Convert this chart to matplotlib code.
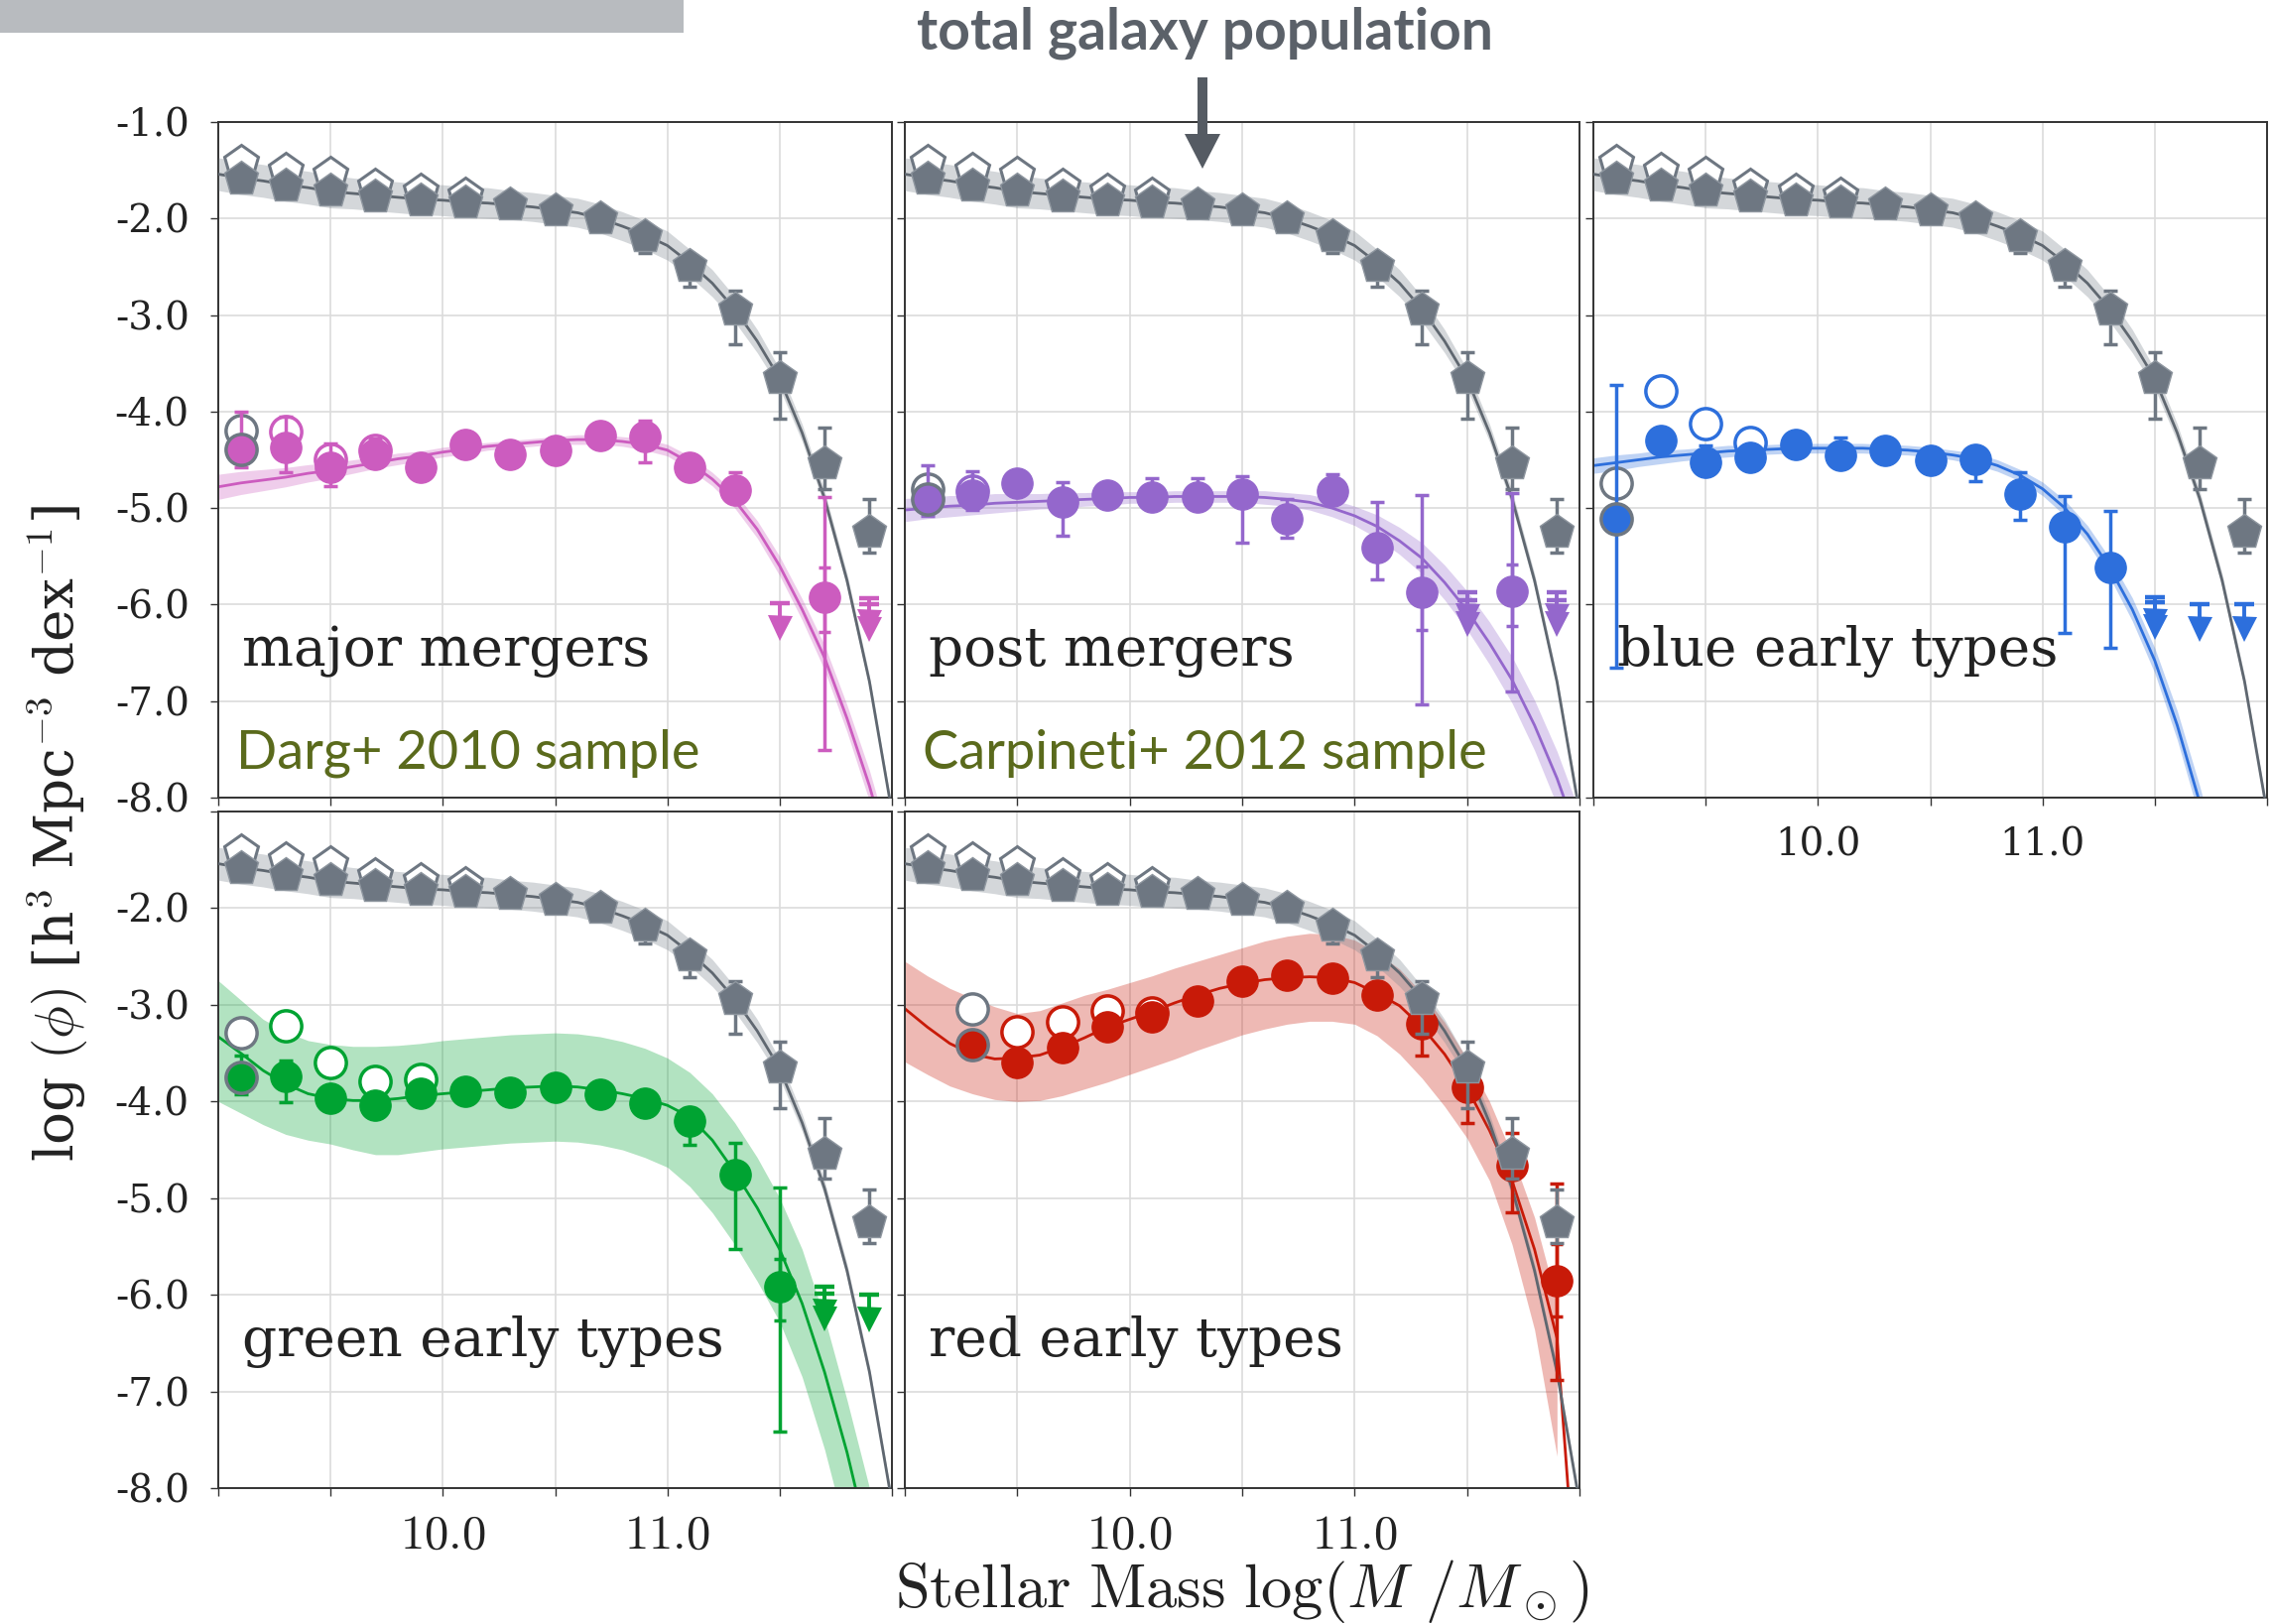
import numpy as np
import matplotlib.pyplot as plt
from matplotlib.patches import Rectangle, Polygon

plt.rcParams['mathtext.fontset'] = 'cm'
plt.rcParams['font.family'] = ['DejaVu Serif']

# ---------------- data ----------------
mass = [9.1, 9.3, 9.5, 9.7, 9.9, 10.1, 10.3, 10.5, 10.7, 10.9, 11.1, 11.3, 11.5, 11.7, 11.9]
fit_x = [9.0, 9.1, 9.2, 9.3, 9.4, 9.5, 9.6, 9.7, 9.8, 9.9, 10.0, 10.1, 10.2, 10.3, 10.4, 10.5,
         10.6, 10.7, 10.8, 10.9, 11.0, 11.1, 11.2, 11.3, 11.4, 11.5, 11.6, 11.7, 11.8, 11.9, 12.0]

# total galaxy population (same in every panel)
tot_y = [-1.59, -1.66, -1.71, -1.77, -1.81, -1.83, -1.85, -1.91, -2.00, -2.18, -2.49, -2.94, -3.65, -4.54, -5.25]
tot_hi = [0.03, 0.03, 0.03, 0.03, 0.03, 0.03, 0.03, 0.03, 0.03, 0.05, 0.08, 0.19, 0.27, 0.37, 0.34]
tot_lo = [0.03, 0.03, 0.03, 0.03, 0.03, 0.03, 0.03, 0.03, 0.03, 0.18, 0.22, 0.36, 0.42, 0.26, 0.21]
tot_open_x = [9.1, 9.3, 9.5, 9.7, 9.9, 10.1]
tot_open_y = [-1.42, -1.50, -1.54, -1.67, -1.72, -1.76]
tot_fit = [-1.54, -1.58, -1.61, -1.65, -1.68, -1.72, -1.74, -1.76, -1.78, -1.80, -1.81, -1.83, -1.84,
           -1.86, -1.88, -1.91, -1.94, -2.00, -2.08, -2.17, -2.28, -2.46, -2.67, -2.94, -3.27, -3.66,
           -4.22, -4.90, -5.75, -6.80, -8.15]
tot_band = [0.17, 0.17, 0.17, 0.17, 0.17, 0.17, 0.16, 0.16, 0.16, 0.16, 0.16, 0.16, 0.16, 0.15, 0.15,
            0.15, 0.15, 0.15, 0.15, 0.15, 0.15, 0.14, 0.14, 0.13, 0.12, 0.10, 0.09, 0.08, 0.07, 0.06, 0.05]

# major mergers
mm_x = [9.1, 9.3, 9.5, 9.7, 9.9, 10.1, 10.3, 10.5, 10.7, 10.9, 11.1, 11.3, 11.7]
mm_y = [-4.39, -4.37, -4.58, -4.44, -4.58, -4.34, -4.44, -4.40, -4.25, -4.26, -4.58, -4.81, -5.92]
mm_hi = [0.39, 0.32, 0.25, 0.16, 0.05, 0.05, 0.05, 0.05, 0.05, 0.17, 0.05, 0.18, 1.03]
mm_lo = [0.19, 0.26, 0.19, 0.10, 0.05, 0.05, 0.05, 0.05, 0.05, 0.27, 0.05, 0.12, 1.59]
mm_inner = [(11.7, -5.92, 0.36, 0.30)]
mm_open_x = [9.1, 9.3, 9.5, 9.7]
mm_open_y = [-4.20, -4.21, -4.49, -4.40]
mm_ul_x = [11.5, 11.9, 11.9]
mm_ul_y = [-5.99, -5.93, -6.00]
mm_fit = [-4.78, -4.74, -4.71, -4.68, -4.64, -4.61, -4.57, -4.53, -4.49, -4.46, -4.42, -4.39, -4.36,
          -4.34, -4.32, -4.30, -4.29, -4.29, -4.31, -4.34, -4.40, -4.53, -4.70, -4.92, -5.22, -5.60,
          -6.05, -6.55, -7.18, -7.88, -8.70]
mm_band = [0.13, 0.12, 0.11, 0.10, 0.09, 0.08, 0.07, 0.06, 0.06, 0.05, 0.05, 0.05, 0.04, 0.04, 0.04,
           0.04, 0.05, 0.05, 0.05, 0.06, 0.06, 0.07, 0.07, 0.08, 0.09, 0.10, 0.11, 0.13, 0.14, 0.16, 0.17]

# post mergers
pm_x = [9.1, 9.3, 9.5, 9.7, 9.9, 10.1, 10.3, 10.5, 10.7, 10.9, 11.1, 11.3, 11.7]
pm_y = [-4.91, -4.87, -4.74, -4.94, -4.86, -4.89, -4.89, -4.85, -5.11, -4.82, -5.41, -5.87, -5.86]
pm_hi = [0.35, 0.25, 0.05, 0.21, 0.05, 0.20, 0.20, 0.18, 0.20, 0.17, 0.47, 1.00, 1.02]
pm_lo = [0.17, 0.15, 0.05, 0.35, 0.05, 0.05, 0.05, 0.51, 0.20, 0.05, 0.33, 1.16, 1.04]
pm_inner = [(11.3, -5.87, 0.39, 0.27), (11.7, -5.86, 0.36, 0.28)]
pm_open_x = [9.1, 9.3]
pm_open_y = [-4.80, -4.82]
pm_ul_x = [11.5, 11.5, 11.9, 11.9]
pm_ul_y = [-5.87, -5.95, -5.87, -5.95]
pm_fit = [-5.02, -5.00, -4.98, -4.97, -4.95, -4.94, -4.93, -4.92, -4.91, -4.90, -4.89, -4.89, -4.88,
          -4.88, -4.88, -4.88, -4.89, -4.91, -4.94, -5.00, -5.08, -5.19, -5.34, -5.52, -5.77, -6.06,
          -6.40, -6.78, -7.25, -7.80, -8.45]
pm_band = [0.12, 0.11, 0.11, 0.10, 0.10, 0.09, 0.08, 0.08, 0.07, 0.07, 0.06, 0.06, 0.06, 0.06, 0.06,
           0.06, 0.07, 0.07, 0.08, 0.09, 0.10, 0.12, 0.14, 0.16, 0.18, 0.20, 0.22, 0.24, 0.26, 0.28, 0.30]

# blue early types
be_x = [9.1, 9.3, 9.5, 9.7, 9.9, 10.1, 10.3, 10.5, 10.7, 10.9, 11.1, 11.3]
be_y = [-5.11, -4.30, -4.53, -4.47, -4.34, -4.45, -4.40, -4.51, -4.50, -4.85, -5.19, -5.62]
be_hi = [1.39, 0.05, 0.18, 0.05, 0.05, 0.18, 0.05, 0.05, 0.05, 0.22, 0.31, 0.59]
be_lo = [1.54, 0.05, 0.05, 0.05, 0.05, 0.05, 0.05, 0.05, 0.22, 0.27, 1.10, 0.83]
be_inner = []
be_open_x = [9.1, 9.3, 9.5, 9.7]
be_open_y = [-4.74, -3.79, -4.12, -4.32]
be_ul_x = [11.5, 11.5, 11.7, 11.9]
be_ul_y = [-5.92, -5.98, -6.00, -6.00]
be_fit = [-4.56, -4.53, -4.50, -4.47, -4.45, -4.43, -4.41, -4.40, -4.39, -4.38, -4.38, -4.38, -4.38,
          -4.39, -4.40, -4.42, -4.45, -4.49, -4.56, -4.66, -4.80, -5.00, -5.27, -5.62, -6.05, -6.58,
          -7.25, -8.05, -8.95, -9.95, -11.0]
be_band = [0.08, 0.08, 0.07, 0.07, 0.06, 0.06, 0.06, 0.05, 0.05, 0.05, 0.05, 0.05, 0.05, 0.05, 0.05,
           0.05, 0.05, 0.06, 0.06, 0.06, 0.07, 0.08, 0.09, 0.10, 0.12, 0.13, 0.15, 0.17, 0.19, 0.21, 0.23]

# green early types
ge_x = [9.1, 9.3, 9.5, 9.7, 9.9, 10.1, 10.3, 10.5, 10.7, 10.9, 11.1, 11.3, 11.5]
ge_y = [-3.75, -3.74, -3.97, -4.04, -3.92, -3.89, -3.90, -3.85, -3.93, -4.02, -4.20, -4.76, -5.92]
ge_hi = [0.23, 0.16, 0.05, 0.05, 0.05, 0.05, 0.05, 0.05, 0.05, 0.05, 0.13, 0.33, 1.03]
ge_lo = [0.18, 0.27, 0.05, 0.05, 0.05, 0.05, 0.05, 0.05, 0.05, 0.05, 0.25, 0.77, 1.49]
ge_inner = [(11.5, -5.92, 0.35, 0.29)]
ge_open_x = [9.1, 9.3, 9.5, 9.7, 9.9]
ge_open_y = [-3.29, -3.22, -3.60, -3.79, -3.77]
ge_ul_x = [11.7, 11.7, 11.9]
ge_ul_y = [-5.92, -5.99, -6.00]
ge_fit = [-3.33, -3.50, -3.68, -3.82, -3.92, -3.97, -3.99, -3.99, -3.97, -3.94, -3.92, -3.90, -3.88,
          -3.86, -3.85, -3.84, -3.85, -3.88, -3.92, -3.97, -4.04, -4.16, -4.40, -4.73, -5.10, -5.53,
          -6.09, -6.80, -7.63, -8.60, -9.60]
ge_up = [-2.75, -2.95, -3.15, -3.28, -3.37, -3.41, -3.43, -3.43, -3.42, -3.40, -3.37, -3.35, -3.33,
         -3.31, -3.30, -3.29, -3.30, -3.33, -3.38, -3.45, -3.55, -3.70, -3.92, -4.22, -4.58, -5.00,
         -5.53, -6.24, -7.09, -8.00, -9.00]
ge_dn = [-4.00, -4.12, -4.24, -4.34, -4.40, -4.44, -4.50, -4.55, -4.55, -4.52, -4.49, -4.47, -4.45,
         -4.43, -4.42, -4.41, -4.42, -4.45, -4.50, -4.58, -4.68, -4.88, -5.15, -5.48, -5.86, -6.28,
         -6.85, -7.60, -8.50, -9.50, -10.5]

# red early types
re_x = [9.3, 9.5, 9.7, 9.9, 10.1, 10.3, 10.5, 10.7, 10.9, 11.1, 11.3, 11.5, 11.7, 11.9]
re_y = [-3.41, -3.60, -3.44, -3.23, -3.12, -2.96, -2.75, -2.69, -2.72, -2.90, -3.20, -3.85, -4.66, -5.85]
re_hi = [0.05, 0.05, 0.05, 0.05, 0.05, 0.05, 0.05, 0.05, 0.05, 0.05, 0.13, 0.29, 0.33, 1.00]
re_lo = [0.15, 0.05, 0.05, 0.05, 0.05, 0.05, 0.05, 0.05, 0.05, 0.05, 0.33, 0.37, 0.49, 1.03]
re_inner = [(11.9, -5.85, 0.37, 0.37)]
re_open_x = [9.3, 9.5, 9.7, 9.9, 10.1]
re_open_y = [-3.04, -3.28, -3.18, -3.06, -3.08]
re_ul_x = []
re_ul_y = []
re_fit = [-3.04, -3.23, -3.40, -3.51, -3.56, -3.55, -3.52, -3.44, -3.34, -3.23, -3.15, -3.07, -2.98,
          -2.90, -2.83, -2.78, -2.74, -2.72, -2.71, -2.72, -2.77, -2.88, -3.01, -3.23, -3.51, -3.86,
          -4.30, -4.82, -5.53, -6.45, -9.60]
re_up = [-2.55, -2.70, -2.83, -2.93, -3.02, -3.09, -3.06, -2.98, -2.90, -2.84, -2.77, -2.70, -2.62,
         -2.55, -2.48, -2.41, -2.34, -2.29, -2.26, -2.27, -2.33, -2.46, -2.63, -2.88, -3.18, -3.56,
         -4.00, -4.55, -5.20, -6.08]
re_dn = [-3.59, -3.72, -3.84, -3.92, -3.98, -4.00, -3.99, -3.94, -3.87, -3.80, -3.72, -3.64, -3.56,
         -3.47, -3.39, -3.31, -3.25, -3.20, -3.17, -3.17, -3.20, -3.32, -3.51, -3.76, -4.05, -4.38,
         -4.82, -5.48, -6.36, -7.67]

GRAY = '#6E7782'
W, H = 2290, 1637
MS_CIRC = 22.5
MS_PENT = 26

fig = plt.figure(figsize=(W / 100, H / 100), dpi=100)


def px_axes(x0, y0, x1, y1):
    return fig.add_axes([x0 / W, 1 - y1 / H, (x1 - x0) / W, (y1 - y0) / H])


def style_axes(ax, xlab=None, ylab=True, top_label=True):
    ax.set_xlim(9.0, 12.0)
    ax.set_ylim(-8.0, -1.0)
    ax.set_xticks([9.0, 9.5, 10.0, 10.5, 11.0, 11.5, 12.0])
    ax.set_yticks([-8, -7, -6, -5, -4, -3, -2, -1])
    ax.grid(True, color='#DCDCDC', lw=1.2, zorder=0)
    ax.set_axisbelow(True)
    for s in ax.spines.values():
        s.set_color('#333333')
        s.set_linewidth(1.4)
    ax.tick_params(direction='out', length=6, width=1.0, color='#333333', pad=15)
    if ylab:
        labs = ['%.1f' % v for v in ax.get_yticks()]
        if not top_label:
            labs[-1] = ''
        ax.set_yticklabels(labs, fontsize=28, family='DejaVu Serif', color='#222222')
    else:
        ax.set_yticklabels([])
    if xlab == 'cm':
        ax.set_xticklabels(['', '', r'$10.0$', '', r'$11.0$', '', ''], fontsize=35, color='#222222')
        ax.tick_params(axis='x', pad=11)
    elif xlab == 'serif':
        ax.set_xticklabels(['', '', '10.0', '', '11.0', '', ''], fontsize=28,
                           family='DejaVu Serif', color='#222222')
    else:
        ax.set_xticklabels([])


def draw_total(ax):
    lo = [f - w for f, w in zip(tot_fit, tot_band)]
    hi = [f + w for f, w in zip(tot_fit, tot_band)]
    ax.fill_between(fit_x, lo, hi, color='#7D8791', alpha=0.33, lw=0, zorder=3)
    ax.plot(fit_x, tot_fit, color='#5F6770', lw=2.0, zorder=3.5)
    ax.plot(tot_open_x, tot_open_y, 'p', ms=MS_PENT, mfc='white', mec=GRAY, mew=2.2, zorder=6)
    ax.errorbar(mass, tot_y, yerr=[tot_lo, tot_hi], fmt='none', ecolor=GRAY,
                elinewidth=2.5, capsize=5, capthick=2.5, zorder=6.5)
    ax.plot(mass, tot_y, 'p', ms=MS_PENT, mfc=GRAY, mec='#8E969F', mew=1.0, zorder=7)


def draw_fit(ax, col, fit, band=None, up=None, dn=None):
    if band is not None:
        dn = [f - w for f, w in zip(fit, band)]
        up = [f + w for f, w in zip(fit, band)]
    n = len(up)
    ax.fill_between(fit_x[:n], dn, up, color=col, alpha=0.3, lw=0, zorder=1)
    ax.plot(fit_x, fit, color=col, lw=2.0, zorder=2)


def draw_points(ax, col, x, y, lo, hi, inner, ox, oy, ulx, uly):
    # open symbols (behind the filled ones)
    ax.plot(ox[:1], oy[:1], 'o', ms=MS_CIRC, mfc='white', mec=GRAY, mew=2.5, zorder=4)
    ax.plot(ox[1:], oy[1:], 'o', ms=MS_CIRC, mfc='white', mec=col, mew=2.5, zorder=4)
    ax.errorbar(x, y, yerr=[lo, hi], fmt='none', ecolor=col, elinewidth=2.5,
                capsize=5, capthick=2.5, zorder=4.5)
    for ix, iy, ilo, ihi in inner:
        ax.errorbar([ix], [iy], yerr=[[ilo], [ihi]], fmt='none', ecolor=col, elinewidth=2.5,
                    capsize=4, capthick=2.5, zorder=4.5)
    ax.plot(x[1:], y[1:], 'o', ms=MS_CIRC, mfc=col, mec=col, mew=1.0, zorder=5)
    ax.plot(x[:1], y[:1], 'o', ms=MS_CIRC, mfc=col, mec=GRAY, mew=2.5, zorder=5)
    # upper limits
    for ux, uy in zip(ulx, uly):
        ax.plot([ux, ux], [uy, uy - 0.2], color=col, lw=2.8, zorder=5)
        ax.plot([ux], [uy], '_', ms=15, mew=3.2, color=col, zorder=5)
        ax.plot([ux], [uy - 0.25], 'v', ms=18, color=col, mew=0, zorder=5)


cols_px = [(220, 899), (912, 1592), (1606, 2285)]
rows_px = [(123, 804), (818, 1500)]

panels = [
    (0, 0, '#CC5CBF', 'major mergers', 'Darg+ 2010 sample', None, True),
    (0, 1, '#9467CC', 'post mergers', 'Carpineti+ 2012 sample', None, False),
    (0, 2, '#2D6FDC', 'blue early types', None, 'serif', False),
    (1, 0, '#00A332', 'green early types', None, 'cm', True),
    (1, 1, '#C81A08', 'red early types', None, 'cm', False),
]

for r, c, col, label, sample, xlab, ylab in panels:
    ax = px_axes(cols_px[c][0], rows_px[r][0], cols_px[c][1], rows_px[r][1])
    style_axes(ax, xlab, ylab, top_label=(r == 0))
    if label == 'major mergers':
        draw_fit(ax, col, mm_fit, band=mm_band)
        draw_points(ax, col, mm_x, mm_y, mm_lo, mm_hi, mm_inner, mm_open_x, mm_open_y, mm_ul_x, mm_ul_y)
    elif label == 'post mergers':
        draw_fit(ax, col, pm_fit, band=pm_band)
        draw_points(ax, col, pm_x, pm_y, pm_lo, pm_hi, pm_inner, pm_open_x, pm_open_y, pm_ul_x, pm_ul_y)
    elif label == 'blue early types':
        draw_fit(ax, col, be_fit, band=be_band)
        draw_points(ax, col, be_x, be_y, be_lo, be_hi, be_inner, be_open_x, be_open_y, be_ul_x, be_ul_y)
    elif label == 'green early types':
        draw_fit(ax, col, ge_fit, up=ge_up, dn=ge_dn)
        draw_points(ax, col, ge_x, ge_y, ge_lo, ge_hi, ge_inner, ge_open_x, ge_open_y, ge_ul_x, ge_ul_y)
    else:
        draw_fit(ax, col, re_fit, up=re_up, dn=re_dn)
        draw_points(ax, col, re_x, re_y, re_lo, re_hi, re_inner, re_open_x, re_open_y, re_ul_x, re_ul_y)
    draw_total(ax)
    ax.text(0.036, 0.195, label, transform=ax.transAxes, fontsize=39.5, family='DejaVu Serif',
            color='#222222', va='baseline', zorder=10)
    if sample:
        ax.text(0.026, 0.043, sample, transform=ax.transAxes, fontsize=39, family='Lato',
                color='#5A6A1C', va='baseline', zorder=10)

# axis labels
fig.text(58 / W, 1 - 840 / H, r'log $(\phi)$ [h$^3$ Mpc$^{-3}$ dex$^{-1}$]', rotation=90,
         ha='center', va='center', fontsize=39.5, family='DejaVu Serif', color='#222222')
fig.text(1252 / W, 1 - 1620 / H, r'$\mathrm{Stellar\ Mass\ log}(M\ /M_\odot)$',
         ha='center', va='baseline', fontsize=45, color='#222222')

# header: gray bar, title and arrow
fig.add_artist(Rectangle((0, 1 - 33 / H), 689 / W, 33 / H, transform=fig.transFigure,
                         color='#B8BBBF', lw=0))
fig.text(1215 / W, 1 - 50 / H, 'total galaxy population', ha='center', va='baseline',
         fontsize=41, family='Lato', weight='bold', color='#5B6169')
fig.add_artist(Rectangle((1207 / W, 1 - 138 / H), 10 / W, 60 / H, transform=fig.transFigure,
                         color='#555B63', lw=0, zorder=20))
fig.add_artist(Polygon([(1194 / W, 1 - 135 / H), (1230 / W, 1 - 135 / H), (1212 / W, 1 - 170 / H)],
                       closed=True, transform=fig.transFigure, color='#555B63', lw=0, zorder=20))

fig.savefig('out.png', dpi=100)
